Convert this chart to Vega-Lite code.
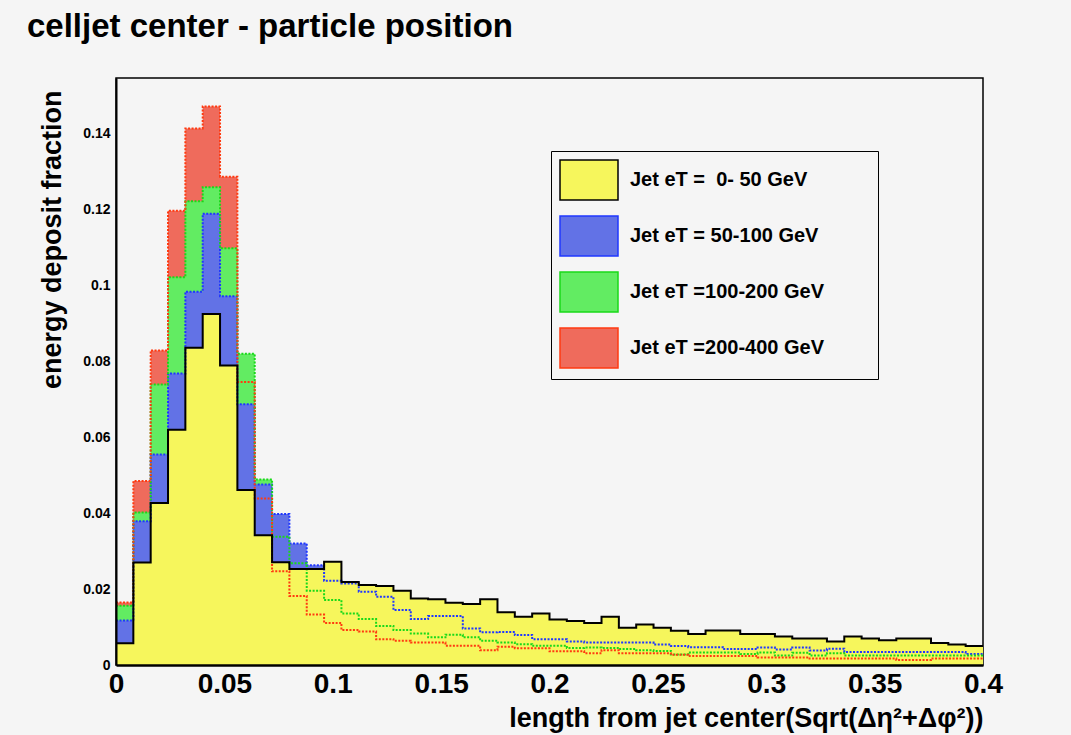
{
  "$schema": "https://vega.github.io/schema/vega-lite/v6.json",
  "autosize": {"type": "none"},
  "width": 867,
  "height": 587,
  "padding": {"left": 116, "top": 78, "right": 88, "bottom": 70},
  "background": "#f5f5f5",
  "config": {
    "view": {"stroke": "black", "strokeWidth": 1.5, "fill": "#f5f5f5"},
    "font": "Liberation Sans"
  },
  "title": {
    "text": "celljet center - particle position",
    "anchor": "start",
    "frame": "group",
    "baseline": "alphabetic",
    "offset": 8,
    "dx": -89,
    "fontSize": 33,
    "font": "Liberation Sans",
    "fontWeight": "bold",
    "color": "black"
  },
  "data": {
    "values": [
      {"x": 0, "Y": 0.0057, "B": 0.0117, "G": 0.0156, "R": 0.0165},
      {"x": 0.008, "Y": 0.0270, "B": 0.0379, "G": 0.0402, "R": 0.0485},
      {"x": 0.016, "Y": 0.0427, "B": 0.0555, "G": 0.0739, "R": 0.0829},
      {"x": 0.024, "Y": 0.0620, "B": 0.0768, "G": 0.1022, "R": 0.1197},
      {"x": 0.032, "Y": 0.0836, "B": 0.0984, "G": 0.1222, "R": 0.1414},
      {"x": 0.04, "Y": 0.0925, "B": 0.1189, "G": 0.1259, "R": 0.1472},
      {"x": 0.048, "Y": 0.0789, "B": 0.0972, "G": 0.1098, "R": 0.1287},
      {"x": 0.056, "Y": 0.0461, "B": 0.0687, "G": 0.0820, "R": 0.0746},
      {"x": 0.064, "Y": 0.0342, "B": 0.0476, "G": 0.0489, "R": 0.0439},
      {"x": 0.072, "Y": 0.0271, "B": 0.0398, "G": 0.0338, "R": 0.0247},
      {"x": 0.08, "Y": 0.0253, "B": 0.0320, "G": 0.0268, "R": 0.0182},
      {"x": 0.088, "Y": 0.0253, "B": 0.0263, "G": 0.0196, "R": 0.0133},
      {"x": 0.096, "Y": 0.0272, "B": 0.0222, "G": 0.0171, "R": 0.0111},
      {"x": 0.104, "Y": 0.0219, "B": 0.0215, "G": 0.0136, "R": 0.0092},
      {"x": 0.112, "Y": 0.0211, "B": 0.0193, "G": 0.0121, "R": 0.0088},
      {"x": 0.12, "Y": 0.0208, "B": 0.0180, "G": 0.0103, "R": 0.0068},
      {"x": 0.128, "Y": 0.0196, "B": 0.0145, "G": 0.0092, "R": 0.0064},
      {"x": 0.136, "Y": 0.0175, "B": 0.0121, "G": 0.0083, "R": 0.0059},
      {"x": 0.144, "Y": 0.0173, "B": 0.0129, "G": 0.0073, "R": 0.0059},
      {"x": 0.152, "Y": 0.0164, "B": 0.0129, "G": 0.0080, "R": 0.0051},
      {"x": 0.16, "Y": 0.0161, "B": 0.0096, "G": 0.0073, "R": 0.0051},
      {"x": 0.168, "Y": 0.0173, "B": 0.0086, "G": 0.0064, "R": 0.0039},
      {"x": 0.176, "Y": 0.0139, "B": 0.0087, "G": 0.0059, "R": 0.0048},
      {"x": 0.184, "Y": 0.0127, "B": 0.0079, "G": 0.0055, "R": 0.0044},
      {"x": 0.192, "Y": 0.0136, "B": 0.0068, "G": 0.0051, "R": 0.0044},
      {"x": 0.2, "Y": 0.0120, "B": 0.0068, "G": 0.0051, "R": 0.0036},
      {"x": 0.208, "Y": 0.0116, "B": 0.0062, "G": 0.0045, "R": 0.0036},
      {"x": 0.216, "Y": 0.0111, "B": 0.0059, "G": 0.0046, "R": 0.0031},
      {"x": 0.224, "Y": 0.0127, "B": 0.0059, "G": 0.0045, "R": 0.0039},
      {"x": 0.232, "Y": 0.0098, "B": 0.0059, "G": 0.0042, "R": 0.0031},
      {"x": 0.24, "Y": 0.0107, "B": 0.0059, "G": 0.0039, "R": 0.0031},
      {"x": 0.248, "Y": 0.0098, "B": 0.0054, "G": 0.0037, "R": 0.0031},
      {"x": 0.256, "Y": 0.0090, "B": 0.0050, "G": 0.0028, "R": 0.0027},
      {"x": 0.264, "Y": 0.0082, "B": 0.0047, "G": 0.0033, "R": 0.0024},
      {"x": 0.272, "Y": 0.0091, "B": 0.0047, "G": 0.0033, "R": 0.0024},
      {"x": 0.28, "Y": 0.0091, "B": 0.0042, "G": 0.0033, "R": 0.0024},
      {"x": 0.288, "Y": 0.0082, "B": 0.0042, "G": 0.0029, "R": 0.0024},
      {"x": 0.296, "Y": 0.0082, "B": 0.0046, "G": 0.0033, "R": 0.0020},
      {"x": 0.304, "Y": 0.0075, "B": 0.0041, "G": 0.0025, "R": 0.0020},
      {"x": 0.312, "Y": 0.0070, "B": 0.0046, "G": 0.0032, "R": 0.0020},
      {"x": 0.32, "Y": 0.0070, "B": 0.0038, "G": 0.0025, "R": 0.0017},
      {"x": 0.328, "Y": 0.0062, "B": 0.0043, "G": 0.0031, "R": 0.0017},
      {"x": 0.336, "Y": 0.0075, "B": 0.0034, "G": 0.0025, "R": 0.0017},
      {"x": 0.344, "Y": 0.0070, "B": 0.0034, "G": 0.0025, "R": 0.0017},
      {"x": 0.352, "Y": 0.0065, "B": 0.0034, "G": 0.0025, "R": 0.0017},
      {"x": 0.36, "Y": 0.0070, "B": 0.0034, "G": 0.0025, "R": 0.0013},
      {"x": 0.368, "Y": 0.0070, "B": 0.0034, "G": 0.0025, "R": 0.0013},
      {"x": 0.376, "Y": 0.0058, "B": 0.0034, "G": 0.0025, "R": 0.0017},
      {"x": 0.384, "Y": 0.0054, "B": 0.0034, "G": 0.0025, "R": 0.0017},
      {"x": 0.392, "Y": 0.0050, "B": 0.0029, "G": 0.0025, "R": 0.0017},
      {"x": 0.4, "Y": 0.0050, "B": 0.0029, "G": 0.0025, "R": 0.0017}
    ]
  },
  "transform": [{"fold": ["Y", "B", "G", "R"], "as": ["s", "v"]}],
  "encoding": {
    "x": {
      "field": "x",
      "type": "quantitative",
      "scale": {"domain": [0, 0.4], "nice": false, "zero": false},
      "axis": {
        "title": "length from jet center(Sqrt(Δη²+Δφ²))",
        "values": [0, 0.01, 0.02, 0.03, 0.04, 0.05, 0.06, 0.07, 0.08, 0.09, 0.1, 0.11, 0.12, 0.13, 0.14, 0.15, 0.16, 0.17, 0.18, 0.19, 0.2, 0.21, 0.22, 0.23, 0.24, 0.25, 0.26, 0.27, 0.28, 0.29, 0.3, 0.31, 0.32, 0.33, 0.34, 0.35, 0.36, 0.37, 0.38, 0.39, 0.4],
        "labelExpr": "round(datum.value*1000) % 50 == 0 ? format(datum.value, '~g') : ''",
        "tickSize": 0,
        "labelPadding": 5,
        "labelFont": "Liberation Sans",
        "labelFontSize": 28,
        "labelFontWeight": "bold",
        "labelColor": "black",
        "labelOverlap": false,
        "labelFlush": false,
        "labelBound": false,
        "domainColor": "black",
        "domainWidth": 2.5,
        "tickColor": "black",
        "tickWidth": 1.5,
        "grid": false,
        "zindex": 1,
        "titleFont": "Liberation Sans",
        "titleFontSize": 27,
        "titleFontWeight": "bold",
        "titleColor": "black",
        "titleAnchor": "end",
        "titlePadding": 7,
        "encode": {"ticks": {"update": {"y2": {"signal": "round(datum.value*1000) % 50 == 0 ? -17 : -7"}}}}
      }
    },
    "y": {
      "field": "v",
      "type": "quantitative",
      "stack": null,
      "scale": {"domain": [0, 0.1547], "nice": false},
      "axis": {
        "title": "energy deposit fraction",
        "values": [0, 0.005, 0.01, 0.015, 0.02, 0.025, 0.03, 0.035, 0.04, 0.045, 0.05, 0.055, 0.06, 0.065, 0.07, 0.075, 0.08, 0.085, 0.09, 0.095, 0.1, 0.105, 0.11, 0.115, 0.12, 0.125, 0.13, 0.135, 0.14, 0.145, 0.15],
        "labelExpr": "round(datum.value*1000) % 20 == 0 ? format(datum.value, '~g') : ''",
        "tickSize": 0,
        "labelPadding": 6,
        "labelFont": "Liberation Sans",
        "labelFontSize": 14,
        "labelFontWeight": "bold",
        "labelColor": "black",
        "labelOverlap": false,
        "labelBound": false,
        "domainColor": "black",
        "domainWidth": 2,
        "tickColor": "black",
        "tickWidth": 1.5,
        "grid": false,
        "zindex": 1,
        "titleFont": "Liberation Sans",
        "titleFontSize": 27,
        "titleFontWeight": "bold",
        "titleColor": "black",
        "titleAnchor": "end",
        "titleY": 12,
        "titlePadding": 16,
        "encode": {"ticks": {"update": {"x2": {"signal": "round(datum.value*1000) % 20 == 0 ? 27 : 13"}}}}
      }
    }
  },
  "layer": [
    {
      "transform": [{"filter": "datum.s == 'R'"}],
      "mark": {"type": "area", "interpolate": "step-after", "opacity": 1},
      "encoding": {
        "fill": {
          "field": "s",
          "type": "nominal",
          "scale": {"domain": ["Y", "B", "G", "R"], "range": ["#f6f65c", "#6272e6", "#62ec62", "#ef6b5c"]},
          "legend": {
            "title": null,
            "orient": "none",
            "legendX": 435,
            "legendY": 73,
            "padding": 8,
            "strokeColor": "black",
            "fillColor": "#f5f5f5",
            "symbolType": "M-1,-1H1.9V1H-1Z",
            "symbolSize": 1600,
            "symbolOpacity": 1,
            "symbolStrokeWidth": 1.5,
            "rowPadding": 10,
            "labelOffset": 29,
            "labelFont": "Liberation Sans",
            "labelFontSize": 20,
            "labelFontWeight": "bold",
            "labelColor": "black",
            "labelLimit": 400,
            "labelExpr": "(datum.value == 'Y' ? 'Jet eT = \u00a00- 50 GeV' : datum.value == 'B' ? 'Jet eT = 50-100 GeV' : datum.value == 'G' ? 'Jet eT =100-200 GeV' : 'Jet eT =200-400 GeV') + '\u2800\u2800\u2800'",
            "encode": {"symbols": {"update": {"stroke": {"scale": "stroke", "field": "value"}, "strokeWidth": {"value": 1.5}}}}
          }
        }
      }
    },
    {
      "transform": [{"filter": "datum.s == 'G'"}],
      "mark": {"type": "area", "interpolate": "step-after", "opacity": 1},
      "encoding": {"fill": {"field": "s", "type": "nominal"}}
    },
    {
      "transform": [{"filter": "datum.s == 'B'"}],
      "mark": {"type": "area", "interpolate": "step-after", "opacity": 1},
      "encoding": {"fill": {"field": "s", "type": "nominal"}}
    },
    {
      "transform": [{"filter": "datum.s == 'Y'"}],
      "mark": {"type": "area", "interpolate": "step-after", "opacity": 1},
      "encoding": {"fill": {"field": "s", "type": "nominal"}}
    },
    {
      "transform": [{"filter": "datum.s != 'Y'"}],
      "mark": {"type": "line", "interpolate": "step-after", "strokeWidth": 2, "strokeDash": [2, 1.5]},
      "encoding": {
        "stroke": {
          "field": "s",
          "type": "nominal",
          "scale": {"domain": ["Y", "B", "G", "R"], "range": ["#000000", "#1f37ff", "#19d919", "#ff3a10"]},
          "legend": null
        }
      }
    },
    {
      "transform": [{"filter": "datum.s == 'Y'"}],
      "mark": {"type": "line", "interpolate": "step-after", "strokeWidth": 2, "color": "black"},
      "encoding": {}
    }
  ]
}
